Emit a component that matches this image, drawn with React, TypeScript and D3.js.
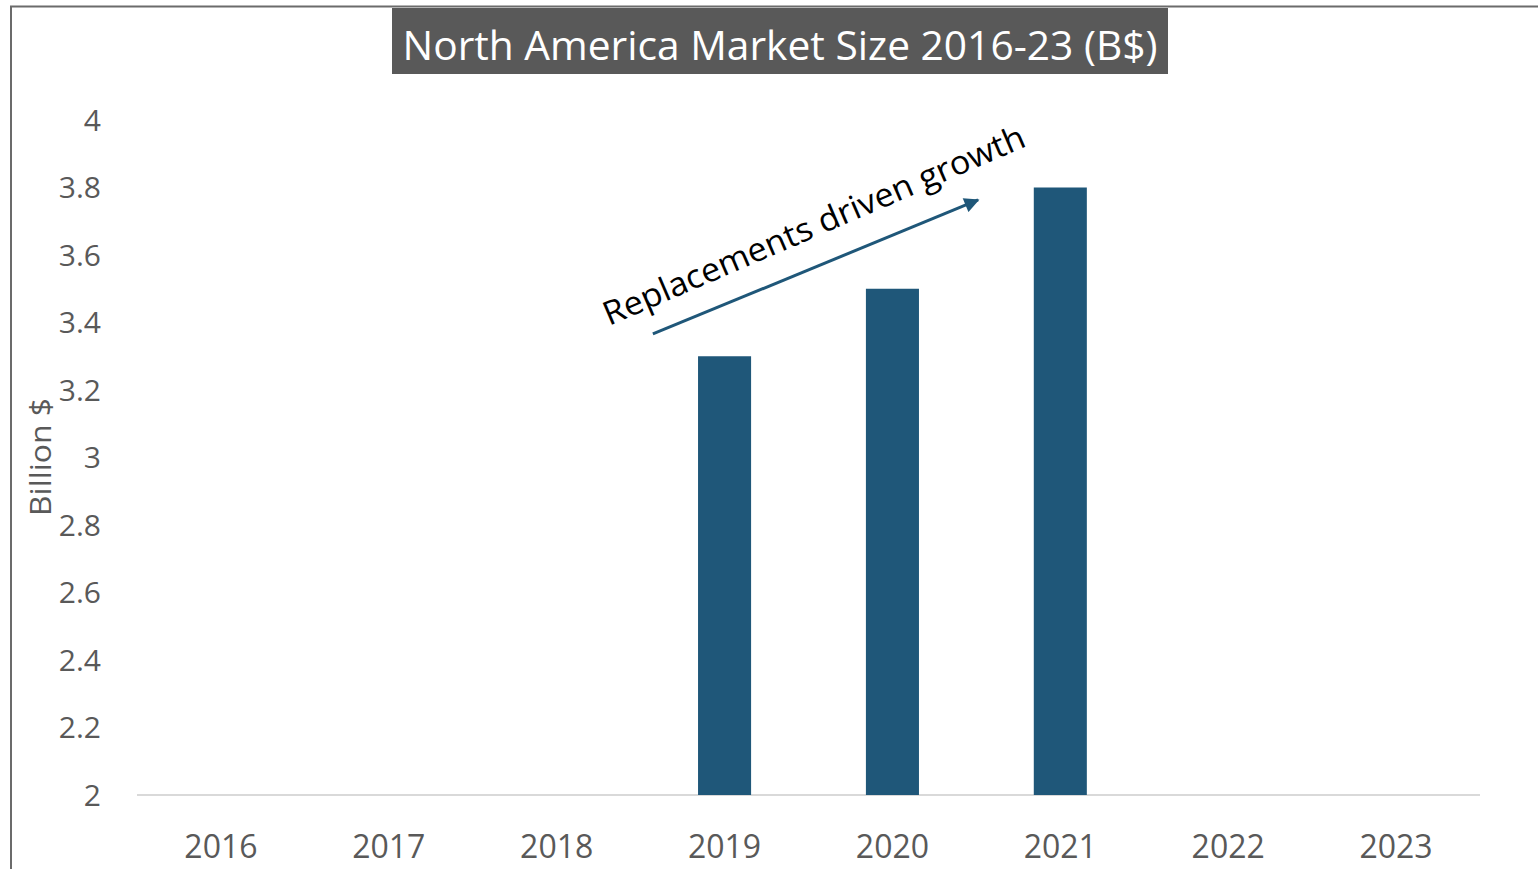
import React, { useEffect, useRef } from 'react';
import * as d3 from 'd3';

const years = ['2016', '2017', '2018', '2019', '2020', '2021', '2022', '2023'];
const marketSize = [null, null, null, 3.3, 3.5, 3.8, null, null];
const yTicks = [2, 2.2, 2.4, 2.6, 2.8, 3, 3.2, 3.4, 3.6, 3.8, 4];
const title = 'North America Market Size 2016-23 (B$)';
const yLabel = 'Billion $';
const note = 'Replacements driven growth';

const App = () => {
  const ref = useRef(null);

  useEffect(() => {
    const W = 1538;
    const H = 869;
    const font = '"Open Sans", "Noto Sans", sans-serif';

    const svg = d3.select(ref.current)
      .append('svg')
      .attr('width', W)
      .attr('height', H)
      .style('position', 'absolute')
      .style('left', 0)
      .style('top', 0)
      .style('font-family', font);

    svg.append('rect').attr('width', W).attr('height', H).attr('fill', '#fff');

    // chart frame (cropped at right and bottom)
    svg.append('path')
      .attr('d', `M11,${H} V6.5 H${W}`)
      .attr('fill', 'none')
      .attr('stroke', '#6b6b6b')
      .attr('stroke-width', 2);

    const x = d3.scaleBand()
      .domain(years)
      .range([137, 1480])
      .padding(0);

    const y = d3.scaleLinear()
      .domain([2, 4])
      .range([795, 120]);

    const barW = x.bandwidth() * 0.316;

    // baseline
    svg.append('line')
      .attr('x1', x.range()[0]).attr('x2', x.range()[1])
      .attr('y1', y(2)).attr('y2', y(2))
      .attr('stroke', '#d9d9d9')
      .attr('stroke-width', 2);

    // bars
    svg.append('g')
      .selectAll('rect')
      .data(years.map((yr, i) => ({ yr, v: marketSize[i] })).filter(d => d.v != null))
      .join('rect')
      .attr('x', d => x(d.yr) + x.bandwidth() / 2 - barW / 2)
      .attr('y', d => y(d.v))
      .attr('width', barW)
      .attr('height', d => y(2) - y(d.v))
      .attr('fill', '#1f5779');

    // y tick labels
    svg.append('g')
      .selectAll('text')
      .data(yTicks)
      .join('text')
      .attr('x', 101)
      .attr('y', d => y(d))
      .attr('dy', '0.35em')
      .attr('text-anchor', 'end')
      .attr('font-size', 30)
      .attr('fill', '#595959')
      .text(d => String(d));

    // x tick labels
    svg.append('g')
      .selectAll('text')
      .data(years)
      .join('text')
      .attr('x', d => x(d) + x.bandwidth() / 2)
      .attr('y', 858)
      .attr('text-anchor', 'middle')
      .attr('font-size', 32)
      .attr('fill', '#595959')
      .text(d => d);

    // y axis title
    svg.append('text')
      .attr('transform', 'translate(51,457) rotate(-90)')
      .attr('text-anchor', 'middle')
      .attr('font-size', 30)
      .attr('fill', '#595959')
      .attr('textLength', 118)
      .attr('lengthAdjust', 'spacingAndGlyphs')
      .text(yLabel);

    // title box
    svg.append('rect')
      .attr('x', 392).attr('y', 8)
      .attr('width', 776).attr('height', 66)
      .attr('fill', '#595959');
    svg.append('text')
      .attr('x', 780)
      .attr('y', 60)
      .attr('text-anchor', 'middle')
      .attr('font-size', 40)
      .attr('fill', '#fff')
      .attr('textLength', 755)
      .attr('lengthAdjust', 'spacingAndGlyphs')
      .text(title);

    // annotation arrow from 2019 up to 2021
    const defs = svg.append('defs');
    defs.append('marker')
      .attr('id', 'arrowhead')
      .attr('viewBox', '0 0 10 10')
      .attr('refX', 9).attr('refY', 5)
      .attr('markerWidth', 5.5).attr('markerHeight', 5)
      .attr('orient', 'auto')
      .append('path')
      .attr('d', 'M0,0 L10,5 L0,10 Z')
      .attr('fill', '#1f5779');

    const ax1 = x('2019') + x.bandwidth() * 0.073;
    const ay1 = y(3.366);
    const ax2 = x('2021') + x.bandwidth() * 0.01;
    const ay2 = y(3.763);
    svg.append('line')
      .attr('x1', ax1).attr('y1', ay1)
      .attr('x2', ax2).attr('y2', ay2)
      .attr('stroke', '#1f5779')
      .attr('stroke-width', 3)
      .attr('marker-end', 'url(#arrowhead)');

    svg.append('text')
      .attr('transform', 'translate(609,326) rotate(-23.3)')
      .attr('font-size', 33)
      .attr('fill', '#000')
      .attr('textLength', 456)
      .attr('lengthAdjust', 'spacingAndGlyphs')
      .text(note);

    return () => {
      d3.select(ref.current).selectAll('svg').remove();
    };
  }, []);

  return <div ref={ref} />;
};

export default App;
